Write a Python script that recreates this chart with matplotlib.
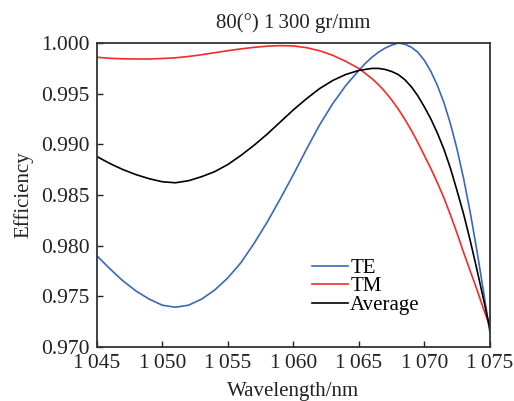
import matplotlib
matplotlib.use("Agg")
import matplotlib.pyplot as plt

plt.rcParams["font.family"] = ["Liberation Serif", "DejaVu Serif"]

# wavelength in nm (1 nm steps, then 0.5 nm near the peaks), efficiency
wavelength = [1045, 1046, 1047, 1048, 1049, 1050, 1051, 1052, 1053, 1054,
              1055, 1056, 1057, 1058, 1059, 1060, 1061, 1062, 1063, 1064,
              1065, 1065.5, 1066, 1066.5, 1067, 1067.5, 1068, 1068.5, 1069, 1069.5,
              1070, 1070.5, 1071, 1071.5, 1072, 1072.5, 1073, 1073.5, 1074, 1074.5,
              1075]
te = [0.9790, 0.9777, 0.9765, 0.9755, 0.9747, 0.9741, 0.9739, 0.9741, 0.9747, 0.9756,
      0.9768, 0.9783, 0.9802, 0.9823, 0.9846, 0.9870, 0.9895, 0.9919, 0.9940, 0.9958,
      0.9973, 0.9980, 0.9986, 0.9991, 0.9995, 0.9998, 1.0000, 0.9999, 0.9996, 0.9991,
      0.9983, 0.9972, 0.9958, 0.9941, 0.9920, 0.9895, 0.9866, 0.9833, 0.9796, 0.9756,
      0.9714]
tm = [0.99860, 0.99850, 0.99845, 0.99843, 0.99843, 0.99848, 0.99855, 0.99868, 0.99885, 0.99905,
      0.99925, 0.99943, 0.99958, 0.99970, 0.99975, 0.99972, 0.99955, 0.99925, 0.99880, 0.99820,
      0.99750, 0.99700, 0.99650, 0.99590, 0.99520, 0.99440, 0.99350, 0.99250, 0.99140, 0.99020,
      0.98890, 0.98760, 0.98620, 0.98470, 0.98300, 0.98120, 0.97930, 0.97750, 0.97570, 0.97380,
      0.97200]
average = [0.9888, 0.9881, 0.9875, 0.9870, 0.9866, 0.9863, 0.9862, 0.9864, 0.9868, 0.9873,
           0.9880, 0.9889, 0.9899, 0.9910, 0.9922, 0.9934, 0.9945, 0.9955, 0.9963, 0.9969,
           0.9973, 0.9974, 0.9975, 0.9975, 0.9974, 0.9972, 0.9969, 0.9964, 0.9957, 0.9948,
           0.9937, 0.9925, 0.9911, 0.9895, 0.9876, 0.9854, 0.9831, 0.9805, 0.9777, 0.9748,
           0.9718]

xticks = [1045, 1050, 1055, 1060, 1065, 1070, 1075]
xtick_labels = ["1\u2009045", "1\u2009050", "1\u2009055", "1\u2009060", "1\u2009065", "1\u2009070", "1\u2009075"]
yticks = [0.970, 0.975, 0.980, 0.985, 0.990, 0.995, 1.000]

fig = plt.figure(figsize=(5.14, 4.01), dpi=100)
ax = fig.add_axes([0.1883, 0.1354, 0.7647, 0.7571])

ax.plot(wavelength, te, color="#3a68b8", lw=1.2, label="TE")
ax.plot(wavelength, tm, color="#f52a2a", lw=1.2, label="TM")
ax.plot(wavelength, average, color="black", lw=1.2, label="Average")

ax.set_xlim(1045, 1075)
ax.set_ylim(0.970, 1.000)
ax.set_xticks(xticks)
ax.set_xticklabels(xtick_labels)
ax.set_yticks(yticks)
ax.set_yticklabels([f"{v:.3f}" for v in yticks])
ax.tick_params(direction="in", length=4, width=1, labelsize=15.5, colors="#222222",
               top=False, right=False, pad=5)
for s in ax.spines.values():
    s.set_linewidth(1.3)
    s.set_color("#333333")

ax.set_title("80(°) 1\u2009300 gr/mm", fontsize=15, pad=11, color="#222222")
ax.set_xlabel("Wavelength/nm", fontsize=15, labelpad=7, color="#222222")
ax.set_ylabel("Efficiency", fontsize=15, labelpad=6, color="#222222")

ax.legend(loc="lower left", bbox_to_anchor=(0.52, 0.07), frameon=False, fontsize=15,
          handlelength=1.75, handletextpad=0.1, labelspacing=-0.05, borderpad=0)

fig.savefig("out.png", dpi=100)
